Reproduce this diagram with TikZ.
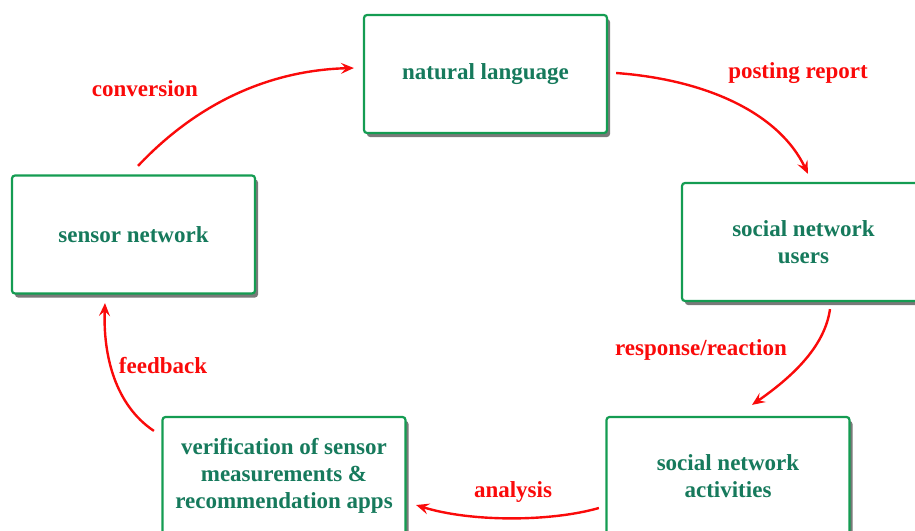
\documentclass[tikz,border=0pt]{standalone}
\usepackage{fontspec}
\setmainfont{Liberation Serif}
\usetikzlibrary{shadows,arrows.meta,calc}
\definecolor{boxgreen}{RGB}{20,156,82}
\definecolor{txtgreen}{RGB}{22,122,92}
\definecolor{arrred}{RGB}{250,10,10}
\tikzset{
  stagebox/.style={draw=boxgreen, line width=2.2pt, fill=white, rounded corners=3pt,
    minimum width=243pt, minimum height=118pt, inner sep=0pt, align=center,
    font=\fontsize{23}{27}\selectfont\bfseries, text=txtgreen,
    drop shadow={shadow xshift=3pt, shadow yshift=-4pt, fill=black!75, opacity=0.7}},
  flow/.style={draw=arrred, line width=2.4pt, -{Stealth[length=13pt,width=11pt,inset=5pt]}},
  lbl/.style={text=arrred, font=\fontsize{23}{26}\selectfont\bfseries, inner sep=0pt}
}
\begin{document}
\begin{tikzpicture}[x=1pt,y=-1pt]
\useasboundingbox (0,0) rectangle (915,530);
\clip (0,0) rectangle (915,530);
\node[stagebox] (nat) at (485.5,74) {natural language};
\node[stagebox] (users) at (803.5,242) {social network\\users};
\node[stagebox] (act) at (728,476) {social network\\activities};
\node[stagebox] (ver) at (284,476) {verification of sensor\\measurements \&\\recommendation apps};
\node[stagebox] (sen) at (133.5,234.5) {sensor network};

\coordinate (c1s) at ($(sen.north)+(4.5,-8.5)$);
\coordinate (c1e) at ($(nat.west)+(-9,-6)$);
\draw[flow] (c1s) .. controls (205,95) and (280,70) .. (c1e);
\node[lbl] (l1) at (145,89) {conversion};

\coordinate (c2s) at ($(nat.east)+(8,-1)$);
\coordinate (c2e) at ($(users.north)+(4.5,-8)$);
\draw[flow] (c2s) .. controls (710,80) and (780,115) .. (c2e);
\node[lbl] (l2) at (798,73) {posting report};

\coordinate (c3s) at ($(users.south)+(26.5,7)$);
\coordinate (c3e) at ($(act.north)+(24,-11)$);
\draw[flow] (c3s) .. controls (825,345) and (795,375) .. (c3e);
\node[lbl] (l3) at (701,350) {response/reaction};

\coordinate (c4s) at ($(act.west)+(-6.5,32)$);
\coordinate (c4e) at ($(ver.east)+(9.5,29)$);
\draw[flow] (c4s) .. controls (550,522) and (470,522) .. (c4e);
\node[lbl] (l4) at (513,492) {analysis};

\coordinate (c5s) at ($(ver.north west)+(-7.5,15)$);
\coordinate (c5e) at ($(sen.south)+(-28.5,8.5)$);
\draw[flow] (c5s) .. controls (115,405) and (103,355) .. (c5e);
\node[lbl] (l5) at (163,366) {feedback};
\end{tikzpicture}
\end{document}
